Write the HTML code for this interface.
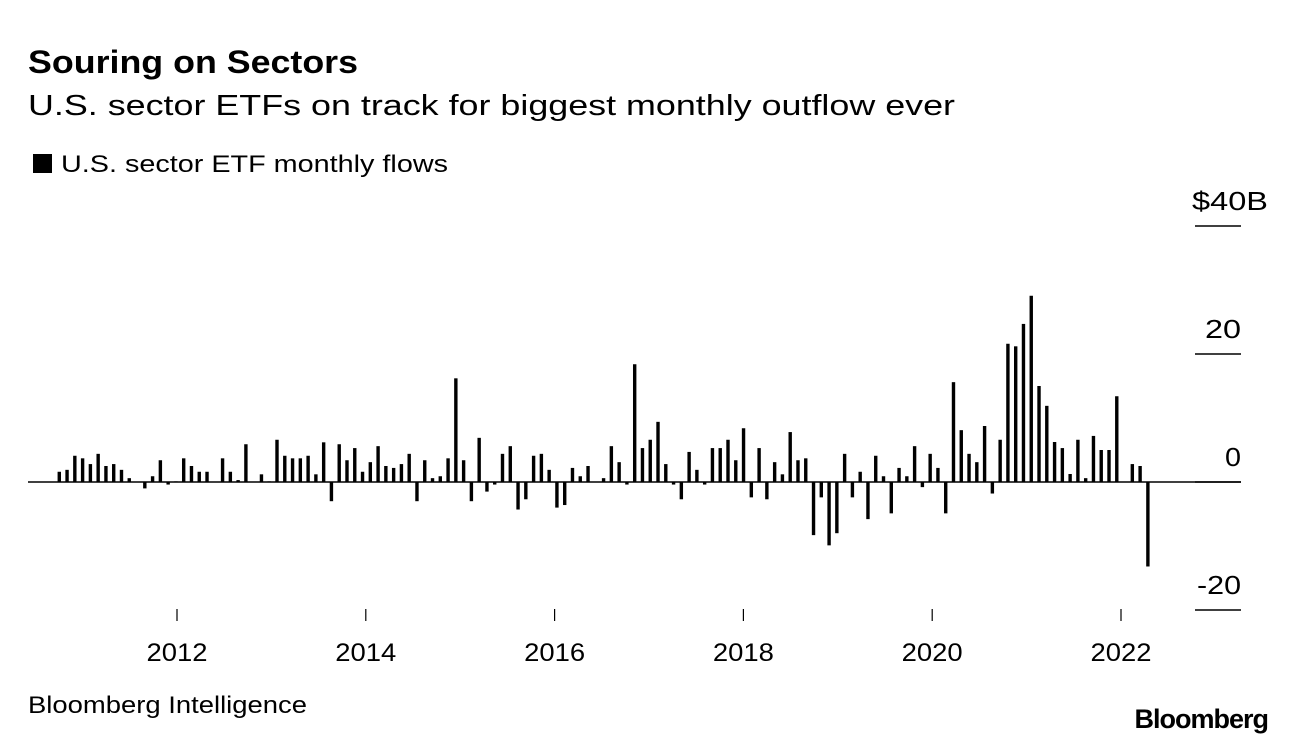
<!DOCTYPE html>
<html><head><meta charset="utf-8">
<style>
html,body{margin:0;padding:0;background:#fff;}
body{width:1296px;height:744px;overflow:hidden;position:relative;font-family:"Liberation Sans",Arial,sans-serif;color:#000;}
</style></head>
<body>
<svg id="chart" width="1296" height="744" xmlns="http://www.w3.org/2000/svg" style="position:absolute;left:0;top:0;font-family:'Liberation Sans',Arial,sans-serif;">
  <text x="28" y="73" font-size="32" font-weight="bold" textLength="330" lengthAdjust="spacingAndGlyphs">Souring on Sectors</text>
  <text x="28" y="115" font-size="29" textLength="927" lengthAdjust="spacingAndGlyphs">U.S. sector ETFs on track for biggest monthly outflow ever</text>
  <rect x="33" y="154" width="19" height="19" fill="#000"/>
  <text x="61" y="172" font-size="24" textLength="387" lengthAdjust="spacingAndGlyphs">U.S. sector ETF monthly flows</text>
  <g id="yaxis"></g>
  <g id="xaxis"></g>
  <g id="bars"></g>
  <line x1="28" y1="482" x2="1241" y2="482" stroke="#000" stroke-width="1.5"/>
  <text x="28" y="713" font-size="24" textLength="279" lengthAdjust="spacingAndGlyphs">Bloomberg Intelligence</text>
  <text x="1268" y="728" font-size="27" font-weight="bold" text-anchor="end" letter-spacing="-1">Bloomberg</text>
</svg>
<script>
const values = [1.6,1.9,4.1,3.7,2.8,4.4,2.5,2.8,1.9,0.6,0,-1.0,0.9,3.4,-0.4,0.1,3.7,2.5,1.6,1.6,0,3.7,1.6,0.3,5.9,0,1.2,0.1,6.6,4.1,3.7,3.7,4.1,1.2,6.2,-3.0,5.9,3.4,5.3,1.6,3.1,5.6,2.5,2.2,2.8,4.4,-3.0,3.4,0.6,0.9,3.7,16.2,3.4,-3.0,6.9,-1.5,-0.4,4.4,5.6,-4.3,-2.7,4.1,4.4,1.9,-4.0,-3.6,2.2,0.9,2.5,0,0.6,5.6,3.1,-0.4,18.4,5.3,6.6,9.4,2.8,-0.4,-2.7,4.7,1.9,-0.4,5.3,5.3,6.6,3.4,8.4,-2.4,5.3,-2.7,3.1,1.2,7.8,3.4,3.7,-8.3,-2.4,-9.9,-8.0,4.4,-2.4,1.6,-5.8,4.1,0.9,-4.9,2.2,0.9,5.6,-0.8,4.4,2.2,-4.9,15.6,8.1,4.4,3.1,8.75,-1.8,6.6,21.6,21.2,24.7,29.1,15.0,11.9,6.25,5.3,1.25,6.6,0.6,7.2,5.0,5.0,13.4,0,2.8,2.5,-13.2];
const yTicks = [40,20,0,-20];
const yTickLabels = ["$40B","20","0","-20"];
const xTicks = [2012,2014,2016,2018,2020,2022];
const firstBarDate = 2010.753;
const barStepYears = 0.08237;

const NS="http://www.w3.org/2000/svg";
function xScale(t){return 177+(t-2012)*94.4;}
function yScale(v){return 482-v*6.4;}
const bars=document.getElementById('bars');
values.forEach((v,i)=>{
  const x=xScale(firstBarDate+i*barStepYears);
  const r=document.createElementNS(NS,'rect');
  r.setAttribute('x',(x-1.7).toFixed(2));
  r.setAttribute('y',Math.min(yScale(v),yScale(0)).toFixed(2));
  r.setAttribute('width',3.4);
  r.setAttribute('height',Math.abs(yScale(v)-yScale(0)).toFixed(2));
  r.setAttribute('fill','#000');
  
  
  bars.appendChild(r);
});
const yLabelWidths = [76,36,16,44];
const ya=document.getElementById('yaxis');
yTicks.forEach((v,i)=>{
  const y=yScale(v);
  const l=document.createElementNS(NS,'line');
  l.setAttribute('x1',1195);l.setAttribute('x2',1241);
  l.setAttribute('y1',y);l.setAttribute('y2',y);
  l.setAttribute('stroke','#000');l.setAttribute('stroke-width',1.5);
  
  
  ya.appendChild(l);
  const t=document.createElementNS(NS,'text');
  t.textContent=yTickLabels[i];
  t.setAttribute('x',i===0?1268:1241);
  t.setAttribute('y',y-16);
  t.setAttribute('font-size',26);
  t.setAttribute('text-anchor','end');
  t.setAttribute('textLength',yLabelWidths[i]);
  t.setAttribute('lengthAdjust','spacingAndGlyphs');
  
  
  ya.appendChild(t);
});
const xa=document.getElementById('xaxis');
xTicks.forEach(yr=>{
  const x=xScale(yr);
  const l=document.createElementNS(NS,'line');
  l.setAttribute('x1',x);l.setAttribute('x2',x);
  l.setAttribute('y1',609);l.setAttribute('y2',621);
  l.setAttribute('stroke','#000');l.setAttribute('stroke-width',1.2);
  
  
  xa.appendChild(l);
  const t=document.createElementNS(NS,'text');
  t.textContent=String(yr);
  t.setAttribute('x',x);t.setAttribute('y',661);
  t.setAttribute('font-size',25);
  t.setAttribute('text-anchor','middle');
  t.setAttribute('textLength',61);
  t.setAttribute('lengthAdjust','spacingAndGlyphs');
  
  
  xa.appendChild(t);
});
</script>
</body></html>
